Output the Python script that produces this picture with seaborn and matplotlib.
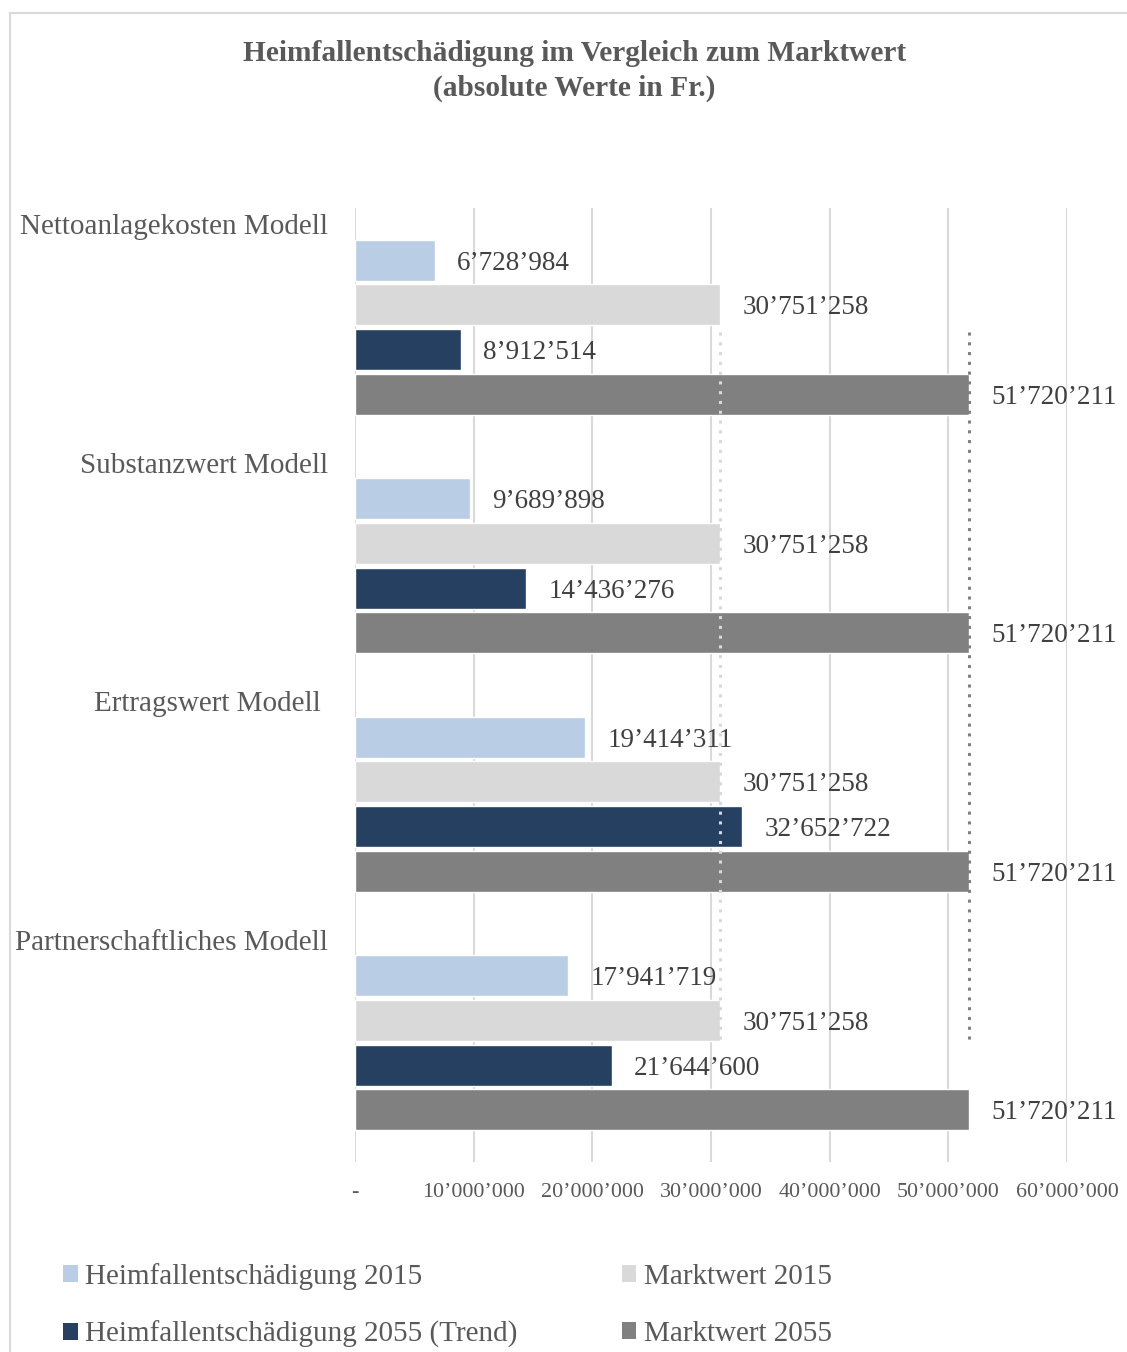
import matplotlib
matplotlib.use("Agg")
import matplotlib.pyplot as plt
from matplotlib.patches import Patch, Rectangle
import seaborn as sns
import pandas as pd

# ---- data ----
categories = ["Nettoanlagekosten Modell", "Substanzwert Modell",
              "Ertragswert Modell", "Partnerschaftliches Modell"]
series = ["Heimfallentschädigung 2015", "Marktwert 2015",
          "Heimfallentschädigung 2055 (Trend)", "Marktwert 2055"]
heimfall_2015 = [6728984, 9689898, 19414311, 17941719]
markt_2015 = [30751258, 30751258, 30751258, 30751258]
heimfall_2055 = [8912514, 14436276, 32652722, 21644600]
markt_2055 = [51720211, 51720211, 51720211, 51720211]
x_ticks = [0, 10000000, 20000000, 30000000, 40000000, 50000000, 60000000]
title_text = "Heimfallentschädigung im Vergleich zum Marktwert\n(absolute Werte in Fr.)"

colors = ["#B9CDE5", "#D9D9D9", "#254061", "#808080"]

values = [heimfall_2015, markt_2015, heimfall_2055, markt_2055]
rows = []
for s, vals in zip(series, values):
    for c, v in zip(categories, vals):
        rows.append({"Modell": c, "Serie": s, "Wert": v})
df = pd.DataFrame(rows)


def fmt(v):
    if v == 0:
        return "-"
    return f"{int(round(v)):,}".replace(",", "\u2019")


sns.set_theme(style="white")
plt.rcParams["font.family"] = ["Liberation Serif", "DejaVu Serif"]

W, H = 1127, 1352
fig = plt.figure(figsize=(W / 100, H / 100), dpi=100)
ax = fig.add_axes([355 / W, 1 - 1162 / H, 712 / W, (1162 - 208) / H])

sns.barplot(data=df, y="Modell", x="Wert", hue="Serie", orient="h",
            order=categories, hue_order=series, palette=colors,
            width=0.75, gap=0.08, saturation=1, legend=False, ax=ax)

ax.set_xlim(0, 60000000)
ax.set_ylim(3.5, -0.5)
ax.set_xticks(x_ticks)
ax.set_xticklabels([fmt(t) for t in x_ticks], fontsize=15.8, color="#595959")
ax.tick_params(axis="x", length=0, pad=15)
ax.set_yticks([])
ax.set_xlabel("")
ax.set_ylabel("")
for sp in ax.spines.values():
    sp.set_visible(False)
ax.grid(False)
for t in x_ticks:
    ax.axvline(t, color="#D9D9D9", lw=1.5, zorder=0)

# reference dotted lines at market values
ax.vlines(markt_2015[0], 0.02, 3.0, colors="#D9D9D9", linestyles=(0, (1, 2.2)),
          lw=2.2, zorder=5)
ax.vlines(markt_2055[0], 0.02, 3.0, colors="#808080", linestyles=(0, (1, 2.2)),
          lw=2.2, zorder=5)

# value labels
for cont in ax.containers:
    txts = ax.bar_label(cont, labels=[fmt(b.get_width()) for b in cont],
                        padding=16, fontsize=19.5, color="#404040")
    for t in txts:
        t.set_va("center_baseline")

# category labels above each group (right edge in pixels left of the axis)
label_right_px = [27, 27, 34, 27]
for i, c in enumerate(categories):
    ax.text(-label_right_px[i] / 712, i - 0.5 + 0.08, c,
            transform=ax.get_yaxis_transform(),
            ha="right", va="center", fontsize=21, color="#595959")

# title
fig.text(574.5 / W, 1 - 71 / H, title_text, ha="center", va="center",
         fontsize=21.2, fontweight="bold", color="#595959", linespacing=1.35)

# legend
handles = [Patch(facecolor=c, edgecolor="none") for c in colors]
order = [0, 2, 1, 3]
fig.legend([handles[i] for i in order], [series[i] for i in order],
           ncol=2, loc="upper left", bbox_to_anchor=(63 / W, 1 - 1263 / H),
           frameon=False, fontsize=21, handlelength=0.5, handleheight=0.5,
           handletextpad=0.27, columnspacing=3.56, labelspacing=1.05,
           borderpad=0, borderaxespad=0, labelcolor="#595959")

# outer frame
fig.patches.append(Rectangle((10 / W, -0.05), 1.2, 1 - 13 / H + 0.05,
                             transform=fig.transFigure, fill=False,
                             edgecolor="#D9D9D9", lw=1.5))

fig.savefig("out.png", dpi=100, facecolor="white")
